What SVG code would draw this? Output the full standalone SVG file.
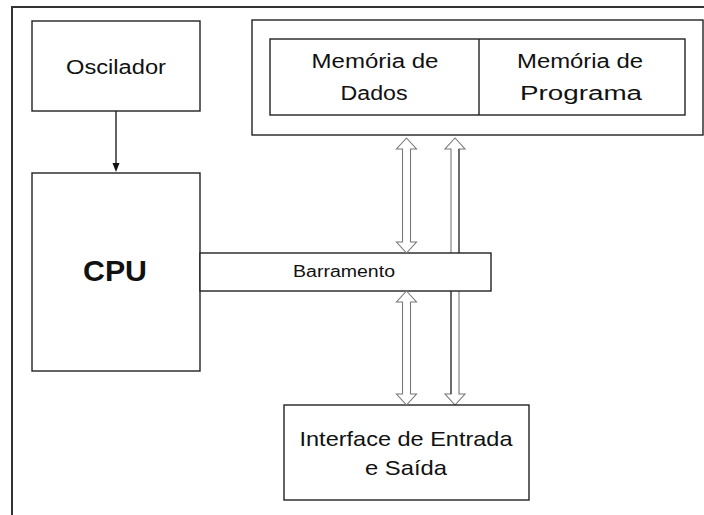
<svg xmlns="http://www.w3.org/2000/svg" width="704" height="515" viewBox="0 0 704 515">
  <style>
    .box { fill: #fff; stroke: #222; stroke-width: 1.4; }
    .frame { fill: none; stroke: #333; stroke-width: 2; }
    .label { font-family: "Liberation Sans", Arial, sans-serif; fill: #111; text-anchor: middle; }
    .bus-arrow { fill: #fff; stroke: #777; stroke-width: 1.1; stroke-linejoin: miter; }
    .wire { stroke: #222; stroke-width: 1.4; fill: none; }
    .edge { stroke: #222; stroke-width: 1; }
  </style>
  <rect width="704" height="515" fill="#fff"/>

  <!-- outer frame, open to the right and bottom -->
  <path class="frame" d="M12,520 L12,7 L710,7"/>

  <!-- I/O bus arrow running from memory to interface, behind the bus -->
  <g id="conn-mem-io">
    <polygon class="bus-arrow" points="455,138 465,149 459,149 459,394 465,394 455,405 445,394 451,394 451,149 445,149"/>
    <line class="edge" x1="459" y1="149" x2="459" y2="253"/>
    <line class="edge" x1="451" y1="291" x2="451" y2="394"/>
  </g>

  <g id="oscilador">
    <rect class="box" x="32" y="21" width="168" height="90"/>
    <text class="label" x="116" y="74" font-size="19.5" textLength="100" lengthAdjust="spacingAndGlyphs">Oscilador</text>
  </g>

  <g id="cpu">
    <rect class="box" x="32" y="173" width="168" height="198"/>
    <text class="label" x="115" y="281" font-size="30" font-weight="bold" textLength="64" lengthAdjust="spacingAndGlyphs">CPU</text>
  </g>

  <g id="barramento">
    <rect class="box" x="200" y="253" width="291" height="38"/>
    <text x="293" y="277" font-family="Liberation Sans, Arial, sans-serif" font-size="16" fill="#111" textLength="102" lengthAdjust="spacingAndGlyphs">Barramento</text>
  </g>

  <g id="memoria">
    <rect class="box" x="252" y="20" width="451" height="115"/>
    <rect class="box" x="270" y="39" width="415" height="76"/>
    <line class="wire" x1="479" y1="39" x2="479" y2="115"/>
    <text class="label" x="375" y="68" font-size="20" textLength="127" lengthAdjust="spacingAndGlyphs">Memória de</text>
    <text class="label" x="374" y="100" font-size="20" textLength="67" lengthAdjust="spacingAndGlyphs">Dados</text>
    <text class="label" x="580" y="68" font-size="20" textLength="126" lengthAdjust="spacingAndGlyphs">Memória de</text>
    <text class="label" x="581" y="100" font-size="20" textLength="122" lengthAdjust="spacingAndGlyphs">Programa</text>
  </g>

  <g id="interface">
    <rect class="box" x="284" y="405" width="245" height="95"/>
    <text class="label" x="406" y="446" font-size="21" textLength="213" lengthAdjust="spacingAndGlyphs">Interface de Entrada</text>
    <text class="label" x="406" y="475" font-size="21" textLength="82" lengthAdjust="spacingAndGlyphs">e Saída</text>
  </g>

  <g id="connectors">
    <line class="wire" x1="116" y1="111" x2="116" y2="165"/>
    <path d="M112.5,163 L119.5,163 L116,172 Z" fill="#111"/>
    <polygon class="bus-arrow" points="406.5,138 416.5,149 410.5,149 410.5,242 416.5,242 406.5,253 396.5,242 402.5,242 402.5,149 396.5,149"/>
    <polygon class="bus-arrow" points="406.5,291 416.5,302 410.5,302 410.5,394 416.5,394 406.5,405 396.5,394 402.5,394 402.5,302 396.5,302"/>
  </g>
</svg>
